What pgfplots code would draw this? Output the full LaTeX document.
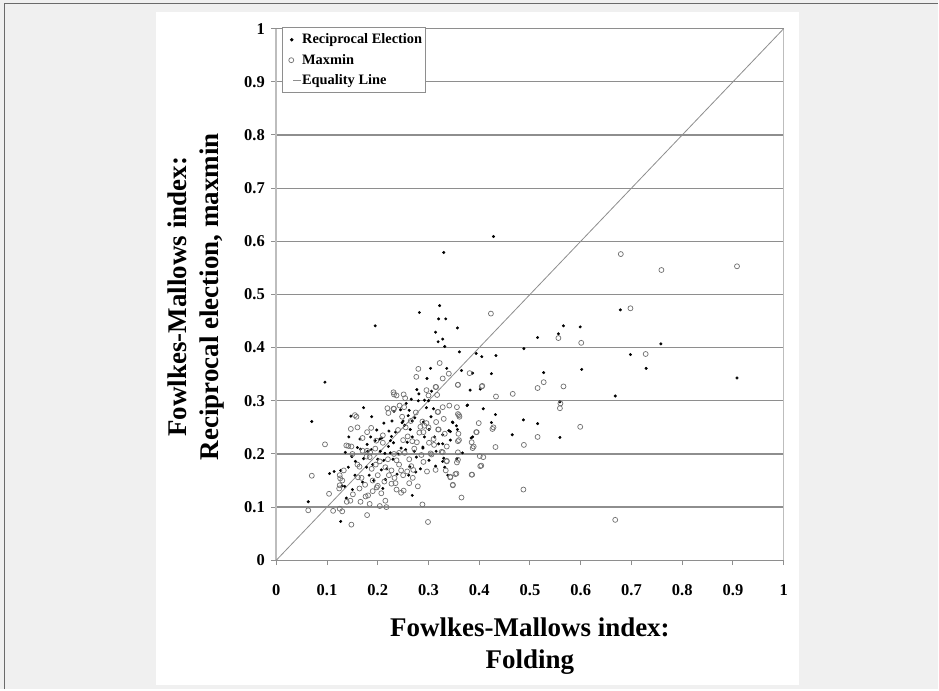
\documentclass[border=0pt]{standalone}
\usepackage{fontspec}
\setmainfont{Liberation Serif}
\usepackage{pgfplots}
\pgfplotsset{compat=1.18}

\definecolor{panelbg}{HTML}{F0F0F0}
\definecolor{framegray}{HTML}{6A6A6A}
\definecolor{gridgray}{HTML}{8E8E8E}
\definecolor{axgray}{HTML}{BDBDBD}
\definecolor{ringgray}{HTML}{707070}

\pgfplotsset{
  dot legend/.style={legend image code/.code={%
    \path[draw=none, fill=none] (0pt,0pt) rectangle (16pt,0.1pt);
    \draw[##1] plot coordinates {(7.5pt,0pt)};}},
  ring legend/.style={legend image code/.code={%
    \path[draw=none, fill=none] (0pt,0pt) rectangle (16pt,0.1pt);
    \draw[##1] plot coordinates {(7pt,0pt)};}},
  short line legend/.style={legend image code/.code={%
    \path[draw=none, fill=none] (0pt,0pt) rectangle (16pt,0.1pt);
    \draw[##1] (9pt,0pt) -- (16.5pt,0pt);}},
}

% Reciprocal election vs. folding
\pgfplotstableread{
x y
0.096 0.335
0.070 0.261
0.172 0.287
0.147 0.271
0.188 0.270
0.212 0.258
0.186 0.232
0.195 0.225
0.204 0.228
0.208 0.230
0.179 0.218
0.187 0.208
0.136 0.203
0.149 0.195
0.156 0.186
0.166 0.209
0.172 0.191
0.214 0.201
0.221 0.214
0.277 0.321
0.281 0.313
0.306 0.318
0.382 0.320
0.376 0.291
0.292 0.301
0.296 0.287
0.256 0.295
0.266 0.303
0.260 0.272
0.273 0.268
0.268 0.262
0.248 0.259
0.253 0.254
0.235 0.241
0.227 0.233
0.231 0.221
0.264 0.246
0.347 0.260
0.340 0.244
0.328 0.236
0.357 0.246
0.343 0.226
0.328 0.219
0.320 0.219
0.289 0.211
0.387 0.232
0.367 0.202
0.225 0.202
0.246 0.211
0.276 0.194
0.301 0.188
0.328 0.186
0.314 0.177
0.263 0.176
0.105 0.163
0.114 0.167
0.127 0.169
0.063 0.110
0.135 0.139
0.150 0.133
0.138 0.117
0.127 0.073
0.268 0.122
0.261 0.160
0.275 0.166
0.332 0.175
0.330 0.579
0.428 0.609
0.282 0.466
0.322 0.479
0.320 0.454
0.334 0.454
0.314 0.429
0.328 0.416
0.319 0.411
0.332 0.402
0.357 0.437
0.195 0.441
0.361 0.392
0.394 0.389
0.405 0.383
0.433 0.385
0.488 0.398
0.515 0.419
0.556 0.426
0.566 0.441
0.599 0.439
0.678 0.471
0.758 0.407
0.698 0.387
0.729 0.361
0.908 0.343
0.602 0.359
0.527 0.353
0.424 0.351
0.387 0.352
0.365 0.357
0.336 0.361
0.304 0.361
0.297 0.342
0.402 0.322
0.668 0.309
0.559 0.298
0.377 0.292
0.432 0.274
0.408 0.285
0.424 0.259
0.487 0.264
0.515 0.257
0.465 0.236
0.559 0.231
0.348 0.259
0.355 0.253
0.343 0.242
0.384 0.230
0.315 0.205
0.289 0.213
0.301 0.246
0.356 0.191
0.200 0.190
0.218 0.172
0.240 0.200
0.232 0.280
0.183 0.160
0.192 0.150
0.210 0.135
0.238 0.162
0.258 0.222
0.272 0.205
0.284 0.172
0.292 0.232
0.305 0.270
0.312 0.232
0.330 0.192
0.338 0.160
0.250 0.262
0.222 0.243
0.205 0.205
0.207 0.170
0.215 0.152
0.230 0.190
0.160 0.212
0.143 0.232
0.165 0.228
0.180 0.205
0.198 0.245
0.228 0.262
0.245 0.283
0.262 0.282
0.280 0.300
0.300 0.300
0.225 0.225
0.190 0.180
0.178 0.175
0.212 0.188
0.255 0.208
0.268 0.232
0.290 0.260
0.310 0.285
0.130 0.140
0.142 0.175
0.155 0.160
0.170 0.147
}\reciprocal

% Maxmin vs. folding
\pgfplotstableread{
x y
0.155 0.273
0.158 0.270
0.147 0.247
0.096 0.218
0.187 0.249
0.179 0.241
0.138 0.216
0.148 0.214
0.197 0.225
0.210 0.221
0.170 0.206
0.179 0.206
0.185 0.203
0.219 0.286
0.221 0.277
0.184 0.194
0.204 0.186
0.196 0.180
0.164 0.176
0.315 0.326
0.358 0.330
0.406 0.328
0.317 0.311
0.231 0.316
0.237 0.310
0.251 0.312
0.243 0.291
0.252 0.288
0.231 0.285
0.328 0.288
0.341 0.291
0.318 0.279
0.358 0.275
0.361 0.270
0.399 0.258
0.395 0.241
0.385 0.222
0.389 0.214
0.359 0.238
0.360 0.226
0.288 0.261
0.292 0.253
0.284 0.251
0.290 0.241
0.320 0.246
0.259 0.233
0.268 0.224
0.250 0.226
0.277 0.222
0.301 0.221
0.311 0.217
0.242 0.202
0.253 0.202
0.306 0.199
0.328 0.203
0.358 0.203
0.401 0.196
0.237 0.188
0.336 0.186
0.358 0.189
0.404 0.178
0.070 0.159
0.133 0.169
0.126 0.154
0.125 0.141
0.124 0.135
0.104 0.125
0.063 0.094
0.112 0.093
0.125 0.097
0.130 0.092
0.139 0.110
0.146 0.112
0.151 0.124
0.166 0.110
0.179 0.085
0.148 0.067
0.184 0.106
0.204 0.102
0.217 0.100
0.161 0.156
0.176 0.120
0.181 0.122
0.198 0.137
0.207 0.126
0.164 0.135
0.168 0.155
0.227 0.169
0.233 0.155
0.227 0.144
0.235 0.145
0.237 0.133
0.246 0.127
0.251 0.131
0.246 0.169
0.258 0.167
0.266 0.177
0.269 0.155
0.279 0.139
0.288 0.105
0.299 0.072
0.314 0.170
0.334 0.169
0.343 0.156
0.353 0.162
0.348 0.141
0.365 0.118
0.386 0.161
0.402 0.177
0.679 0.576
0.759 0.546
0.908 0.553
0.423 0.464
0.698 0.474
0.728 0.388
0.556 0.418
0.601 0.409
0.381 0.352
0.322 0.371
0.328 0.342
0.340 0.351
0.314 0.326
0.358 0.330
0.405 0.327
0.433 0.308
0.466 0.313
0.515 0.324
0.527 0.335
0.566 0.327
0.560 0.295
0.559 0.286
0.599 0.251
0.488 0.217
0.515 0.232
0.432 0.213
0.426 0.247
0.428 0.250
0.394 0.241
0.387 0.211
0.408 0.194
0.385 0.161
0.487 0.133
0.668 0.076
0.348 0.142
0.343 0.157
0.355 0.163
0.356 0.184
0.358 0.224
0.296 0.320
0.356 0.288
0.319 0.279
0.360 0.273
0.330 0.266
0.296 0.258
0.319 0.246
0.332 0.238
0.310 0.228
0.336 0.214
0.326 0.204
0.304 0.201
0.336 0.187
0.297 0.167
0.280 0.360
0.276 0.345
0.232 0.312
0.254 0.305
0.200 0.160
0.188 0.172
0.213 0.148
0.222 0.160
0.242 0.180
0.262 0.190
0.272 0.210
0.282 0.240
0.300 0.250
0.286 0.198
0.220 0.190
0.232 0.200
0.200 0.140
0.190 0.130
0.175 0.142
0.215 0.112
0.160 0.180
0.150 0.200
0.170 0.230
0.160 0.250
0.130 0.150
0.125 0.160
0.142 0.215
0.255 0.250
0.265 0.262
0.275 0.278
0.240 0.245
0.210 0.235
0.195 0.210
0.290 0.185
0.262 0.145
0.250 0.160
0.232 0.285
0.248 0.270
0.300 0.310
0.315 0.260
0.270 0.170
0.215 0.175
0.190 0.150
0.178 0.195
}\maxmin

\begin{document}
\begin{tikzpicture}[x=1pt,y=1pt]
% page background, frame and white panel
\fill[panelbg] (0,0) rectangle (939,690);
\draw[framegray, line width=1.5pt] (4.5,0) -- (4.5,686.6) -- (939,686.6);
\fill[white] (156,4) rectangle (800,678);
\path[use as bounding box] (0,0) rectangle (939,690);

\begin{axis}[
  at={(276.5pt,129.3pt)}, anchor=south west,
  scale only axis, width=507.8pt, height=532pt,
  xmin=0, xmax=1, ymin=0, ymax=1,
  axis line style={draw=none},
  xtick={0,0.1,0.2,0.3,0.4,0.5,0.6,0.7,0.8,0.9,1},
  ytick={0,0.1,0.2,0.3,0.4,0.5,0.6,0.7,0.8,0.9,1},
  xticklabels={0,0.1,0.2,0.3,0.4,0.5,0.6,0.7,0.8,0.9,1},
  yticklabels={0,0.1,0.2,0.3,0.4,0.5,0.6,0.7,0.8,0.9,1},
  xtick pos=bottom, ytick pos=left,
  tick align=outside, major tick length=5pt,
  tick style={gridgray, line width=1pt},
  ymajorgrids, major grid style={gridgray, line width=1.2pt},
  ticklabel style={font=\bfseries\fontsize{16.5}{18}\selectfont},
  xticklabel style={yshift=-16pt},
  yticklabel style={xshift=-3pt},
  every axis x label/.style={at={(rel axis cs:0.5,-0.162)}, anchor=center,
    align=center, font=\bfseries\fontsize{27}{32}\selectfont},
  every axis y label/.style={at={(rel axis cs:-0.1585,0.4957)}, anchor=center,
    rotate=90, align=center, font=\bfseries\fontsize{27}{32}\selectfont},
  xlabel={Fowlkes-Mallows index:\\Folding},
  ylabel={Fowlkes-Mallows index:\\Reciprocal election, maxmin},
  legend style={at={(0.011,1.003)}, anchor=north west,
    draw=gridgray, line width=0.8pt, fill=white,
    font=\bfseries\fontsize{14.4}{16}\selectfont,
    inner xsep=2pt, inner ysep=5.5pt, row sep=7pt,
    nodes={inner sep=1pt}},
  legend cell align=left,
  clip=false,
]
% frame lines at x = 0 and x = 1
\draw[axgray, line width=2pt] (rel axis cs:0,0) -- (rel axis cs:0,1);
\draw[axgray, line width=1.2pt] (rel axis cs:1,0) -- (rel axis cs:1,1);

\addplot[only marks, mark=*, mark size=1.3pt, black, dot legend]
  table {\reciprocal};
\addlegendentry{Reciprocal Election}

\addplot[only marks, mark=o, mark size=2.5pt, ringgray,
  mark options={line width=0.7pt}, ring legend]
  table {\maxmin};
\addlegendentry{Maxmin}

\addplot[gridgray, line width=0.8pt, short line legend]
  coordinates {(0,0) (1,1)};
\addlegendentry{Equality Line}
\end{axis}
\end{tikzpicture}
\end{document}
